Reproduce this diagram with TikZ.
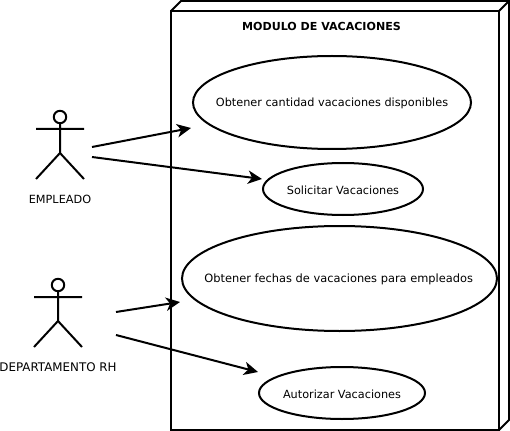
\documentclass[tikz,border=0pt]{standalone}
\usepackage{fontspec}
\setmainfont{DejaVu Sans}
\usetikzlibrary{shapes.geometric,arrows.meta}
\tikzset{
	usecase/.style={draw, ellipse, line width=1.5pt, inner sep=0pt},
	txt/.style={font=\fontsize{8.45pt}{10pt}\selectfont, inner sep=0pt},
	casetxt/.style={txt, yshift=-0.9pt},
	link/.style={line width=1.5pt, -{Stealth[length=10.5pt,width=10pt,inset=3pt]}},
	actor/.pic={
		\draw [line width=1.5pt] (0,-6) circle (6.2);
		\draw [line width=1.5pt] (0,0) -- (0,30) (-24,6) -- (24,6) (-24,56) -- (0,30) -- (24,56);
	}
}
\begin{document}
\begin{tikzpicture}[x=0.75pt,y=-0.75pt]
	\useasboundingbox (0,0) rectangle (510,431);
	% caja del modulo
	\draw [line width=1.5pt, line join=miter] (171,11) rectangle (499,430);
	\draw [line width=1.5pt] (171,11) -- (181,1) -- (509,1) -- (509,420) -- (499,430) (499,11) -- (509,1);
	\node (titulo) [txt, font=\fontsize{8.3pt}{10pt}\selectfont\bfseries] at (321.5,26) {MODULO DE VACACIONES};
	% casos de uso
	\node (cantidad) [usecase, minimum width=208.5pt, minimum height=69.75pt, label={[casetxt]center:Obtener cantidad vacaciones disponibles}] at (332,102.5) {};
	\node (solicitar) [usecase, minimum width=120pt, minimum height=39pt, label={[casetxt]center:Solicitar Vacaciones}] at (343,189) {};
	\node (fechas) [usecase, minimum width=236.25pt, minimum height=78.75pt, label={[casetxt, font=\fontsize{8.55pt}{10pt}\selectfont, xshift=-0.6pt]center:Obtener fechas de vacaciones para empleados}] at (339.5,278.5) {};
	\node (autorizar) [usecase, minimum width=124.5pt, minimum height=39pt, label={[casetxt]center:Autorizar Vacaciones}] at (342,393) {};
	% actores
	\pic at (60,123) {actor};
	\node (empleado) [txt] at (60,199) {EMPLEADO};
	\pic at (58,291) {actor};
	\node (depto) [txt, font=\fontsize{8.9pt}{10pt}\selectfont] at (58,367) {DEPARTAMENTO RH};
	% extremos de las flechas
	\coordinate (empA) at (92,147);
	\coordinate (empB) at (92,157);
	\coordinate (rhA) at (116,312);
	\coordinate (rhB) at (116,335);
	\coordinate (cantidadIn) at (191,128);
	\coordinate (solicitarIn) at (262,179);
	\coordinate (fechasIn) at (180,302);
	\coordinate (autorizarIn) at (258,372);
	\draw [link] (empA) -- (cantidadIn);
	\draw [link] (empB) -- (solicitarIn);
	\draw [link] (rhA) -- (fechasIn);
	\draw [link] (rhB) -- (autorizarIn);
\end{tikzpicture}
\end{document}
